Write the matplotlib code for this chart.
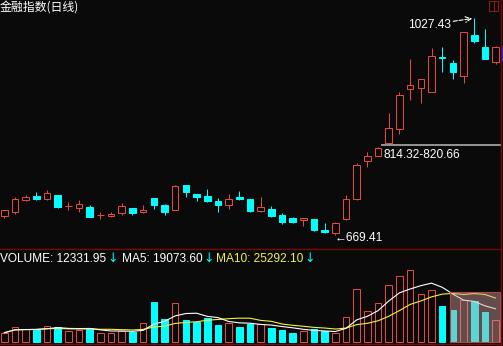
import matplotlib
matplotlib.use('Agg')
import matplotlib.pyplot as plt
from matplotlib.patches import Rectangle
from matplotlib.lines import Line2D
import pandas as pd

# ---------------- data ----------------
title = "金融指数(日线)"
opens = [701.29, 707.41, 727.23, 733.84, 729.38, 735.49, 717.81, 714.51, 715.67, 702.45,
         701.29, 706.25, 714.01, 707.90, 730.53, 718.97, 711.21, 752.01, 737.14, 733.84,
         725.58, 719.47, 732.19, 728.88, 709.06, 712.36, 702.45, 697.49, 694.19, 695.84,
         677.67, 672.71, 695.35, 728.88, 791.16, 800.41, 820.66, 844.03, 910.11, 911.76,
         906.14, 962.97, 954.05, 932.57, 1000.31, 979.99, 955.70]
highs = [710.71, 732.19, 735.49, 740.45, 743.75, 735.49, 723.93, 726.73, 718.97, 707.41,
         707.41, 722.27, 714.01, 718.97, 730.53, 720.62, 752.51, 752.01, 737.14, 745.40,
         730.53, 737.14, 742.10, 728.88, 732.19, 717.32, 705.75, 699.15, 697.49, 695.84,
         689.23, 690.89, 735.49, 788.85, 807.02, 814.32, 870.46, 906.14, 959.67, 926.63,
         977.84, 979.49, 958.51, 1004.27, 1027.43, 1009.23, 982.13]
lows = [697.99, 704.60, 725.58, 727.23, 727.73, 714.51, 710.71, 707.90, 699.64, 696.34,
        699.15, 702.95, 702.95, 705.75, 712.36, 702.95, 710.21, 732.68, 726.07, 723.93,
        707.90, 712.36, 727.23, 707.41, 707.41, 699.64, 688.08, 689.73, 684.77, 676.02,
        672.71, 669.41, 694.19, 727.23, 781.25, 799.92, 820.66, 836.26, 892.43, 886.98,
        906.14, 939.18, 927.12, 921.01, 987.09, 960.66, 951.90]
closes = [710.71, 728.88, 732.19, 728.88, 738.79, 716.16, 717.81, 721.12, 699.64, 702.45,
          704.60, 717.32, 706.25, 711.21, 719.47, 707.90, 750.85, 740.94, 732.68, 726.07,
          718.97, 728.88, 728.39, 709.06, 715.67, 701.29, 691.38, 691.38, 697.49, 677.67,
          674.37, 689.23, 728.88, 785.05, 799.92, 813.50, 845.68, 900.69, 917.21, 926.63,
          965.12, 962.60, 939.18, 1004.27, 990.39, 960.66, 979.49]
volumes = [5211, 8511, 7353, 7353, 9090, 8511, 6195, 6774, 7759, 5037,
           5211, 6195, 5790, 10654, 22986, 13143, 22234, 12564, 11580, 13896,
           9669, 10827, 8685, 10422, 10422, 7759, 6601, 5037, 6022, 7353,
           6022, 5037, 14301, 30513, 17775, 22407, 32829, 38040, 41514, 27445,
           29710, 20844, 18354, 24144, 23565, 16973.05, 12331.95]
low_idx = 31
high_idx = 44
gap_idx = 35          # gap between this candle's high and next candle's low

# ---------------- style ----------------
BG = '#0a0a0a'
RED = '#e8463e'
CYAN = '#00ffff'
FRAME = '#760808'
YEL = '#f2f23c'
W, H = 503, 346
LW = 0.72
BW = 0.62
NUM_FONT = ['Liberation Sans', 'DejaVu Sans']
NFS = 8.6

fig = plt.figure(figsize=(W / 100, H / 100), dpi=100, facecolor=BG)

def fx(px):
    return px / W

def fy(py):
    return 1 - py / H

ax = fig.add_axes([0, fy(249), fx(500.5), 249 / H])
axv = fig.add_axes([0, fy(344), fx(500.5), 95 / H], sharex=ax)
for a in (ax, axv):
    a.set_facecolor(BG)
    a.set_axis_off()

n = len(opens)
ax.set_xlim(-0.403, 46.46)
ax.set_ylim(646.3, 1057.6)
axv.set_ylim(-1332, 53673)

# ---------------- candles ----------------
for i, (o, h, l, c) in enumerate(zip(opens, highs, lows, closes)):
    if c > o:
        ax.add_patch(Rectangle((i - BW / 2, o), BW, c - o, fill=False, ec=RED, lw=LW))
        if h > c:
            ax.vlines(i, c, h, color=RED, lw=LW)
        if l < o:
            ax.vlines(i, l, o, color=RED, lw=LW)
    elif c == o:
        ax.hlines(o, i - BW / 2, i + BW / 2, color=RED, lw=LW)
        ax.vlines(i, l, h, color=RED, lw=LW)
    else:
        ax.vlines(i, l, h, color=CYAN, lw=LW)
        ax.add_patch(Rectangle((i - BW / 2, c), BW, o - c, fc=CYAN, ec=CYAN, lw=LW))

# ---------------- volume ----------------
for i, v in enumerate(volumes):
    if closes[i] >= opens[i]:
        axv.add_patch(Rectangle((i - BW / 2, 0), BW, v, fill=False, ec=RED, lw=LW))
    else:
        axv.add_patch(Rectangle((i - BW / 2, 0), BW, v, fc=CYAN, ec=CYAN, lw=LW))

vs = pd.Series(volumes)
ma5 = vs.rolling(5, min_periods=1).mean()
ma10 = vs.rolling(10, min_periods=1).mean()
xs = list(range(n))
axv.plot(xs, ma10, color=YEL, lw=0.8, zorder=5)
axv.plot(xs, ma5, color='white', lw=0.8, zorder=6)

# ---------------- annotations ----------------
ax.annotate(f"{highs[high_idx]:.2f}", xy=(high_idx, highs[high_idx]), xytext=(-23, -7),
            textcoords='offset pixels', ha='right', va='center', color='white',
            fontsize=NFS, family=NUM_FONT)
ax.annotate('', xy=(high_idx, highs[high_idx]), xytext=(-21, -3), textcoords='offset pixels',
            arrowprops=dict(arrowstyle='->', color='white', lw=0.8, ls='--',
                            shrinkA=0, shrinkB=1.5))
ax.annotate(f"←{lows[low_idx]:.2f}", xy=(low_idx, lows[low_idx]), xytext=(-1, -3),
            textcoords='offset pixels', ha='left', va='center', color='white',
            fontsize=NFS, family=NUM_FONT)

gap_lo = highs[gap_idx]
gap_hi = lows[gap_idx + 1]
ax.hlines((gap_lo + gap_hi) / 2, gap_idx + 0.26, ax.get_xlim()[1], color='#a0a0a0', lw=1.3)
ax.annotate(f"{gap_lo:.2f}-{gap_hi:.2f}", xy=(gap_idx, gap_lo), xytext=(5, -8),
            textcoords='offset pixels', ha='left', va='center', color='white',
            fontsize=NFS, family=NUM_FONT)

# last-bar marker on right edge
ax.add_patch(Rectangle((1.0, min(opens[-1], closes[-1])), 3 / 500.5,
                       abs(closes[-1] - opens[-1]),
                       transform=ax.get_yaxis_transform(), fc='#2a2aff', ec='none',
                       clip_on=False))

# ---------------- header texts ----------------
fig.text(fx(0), fy(6.8), title, color='white', fontsize=8.6, va='center', ha='left',
         family=['Noto Sans CJK SC', 'DejaVu Sans'])

hy = fy(258.5)
labels = [(0.5, f"VOLUME: {volumes[-1]:.2f}", 'white'),
          (121.5, f"MA5: {ma5.iloc[-1]:.2f}", 'white'),
          (216.5, f"MA10: {ma10.iloc[-1]:.2f}", YEL)]
for px, txt, col in labels:
    t = fig.text(fx(px), hy, txt, color=col, fontsize=NFS, va='center', family=NUM_FONT)
    fig.text(0, 0, '')
    plt.annotate('↓', xy=(1, 0.5), xycoords=t, xytext=(1, 0), textcoords='offset pixels',
                 ha='left', va='center', color=CYAN, fontsize=9, family='DejaVu Sans')

# ---------------- frame ----------------
fig.add_artist(Line2D([0, fx(500.5)], [fy(249), fy(249)], color=FRAME, lw=1.0))
fig.add_artist(Line2D([0, fx(500.5)], [fy(344), fy(344)], color=FRAME, lw=1.0))
fig.add_artist(Line2D([fx(500.5), fx(500.5)], [0, 1], color=FRAME, lw=1.0))
fig.add_artist(Rectangle((fx(489), fy(10.5)), fx(9), 9.5 / H, fill=False, ec='#8a1a1a', lw=0.8))
fig.add_artist(Line2D([fx(493.5), fx(493.5)], [fy(10.5), fy(1)], color='#8a1a1a', lw=0.8))

# watermark stamp
fig.add_artist(Rectangle((fx(450), fy(342)), fx(50), 50 / H, fc=(0.82, 0.62, 0.62, 0.45),
                         ec='#b04848', lw=0.8, zorder=10))

fig.savefig('out.png', dpi=100, facecolor=BG)
